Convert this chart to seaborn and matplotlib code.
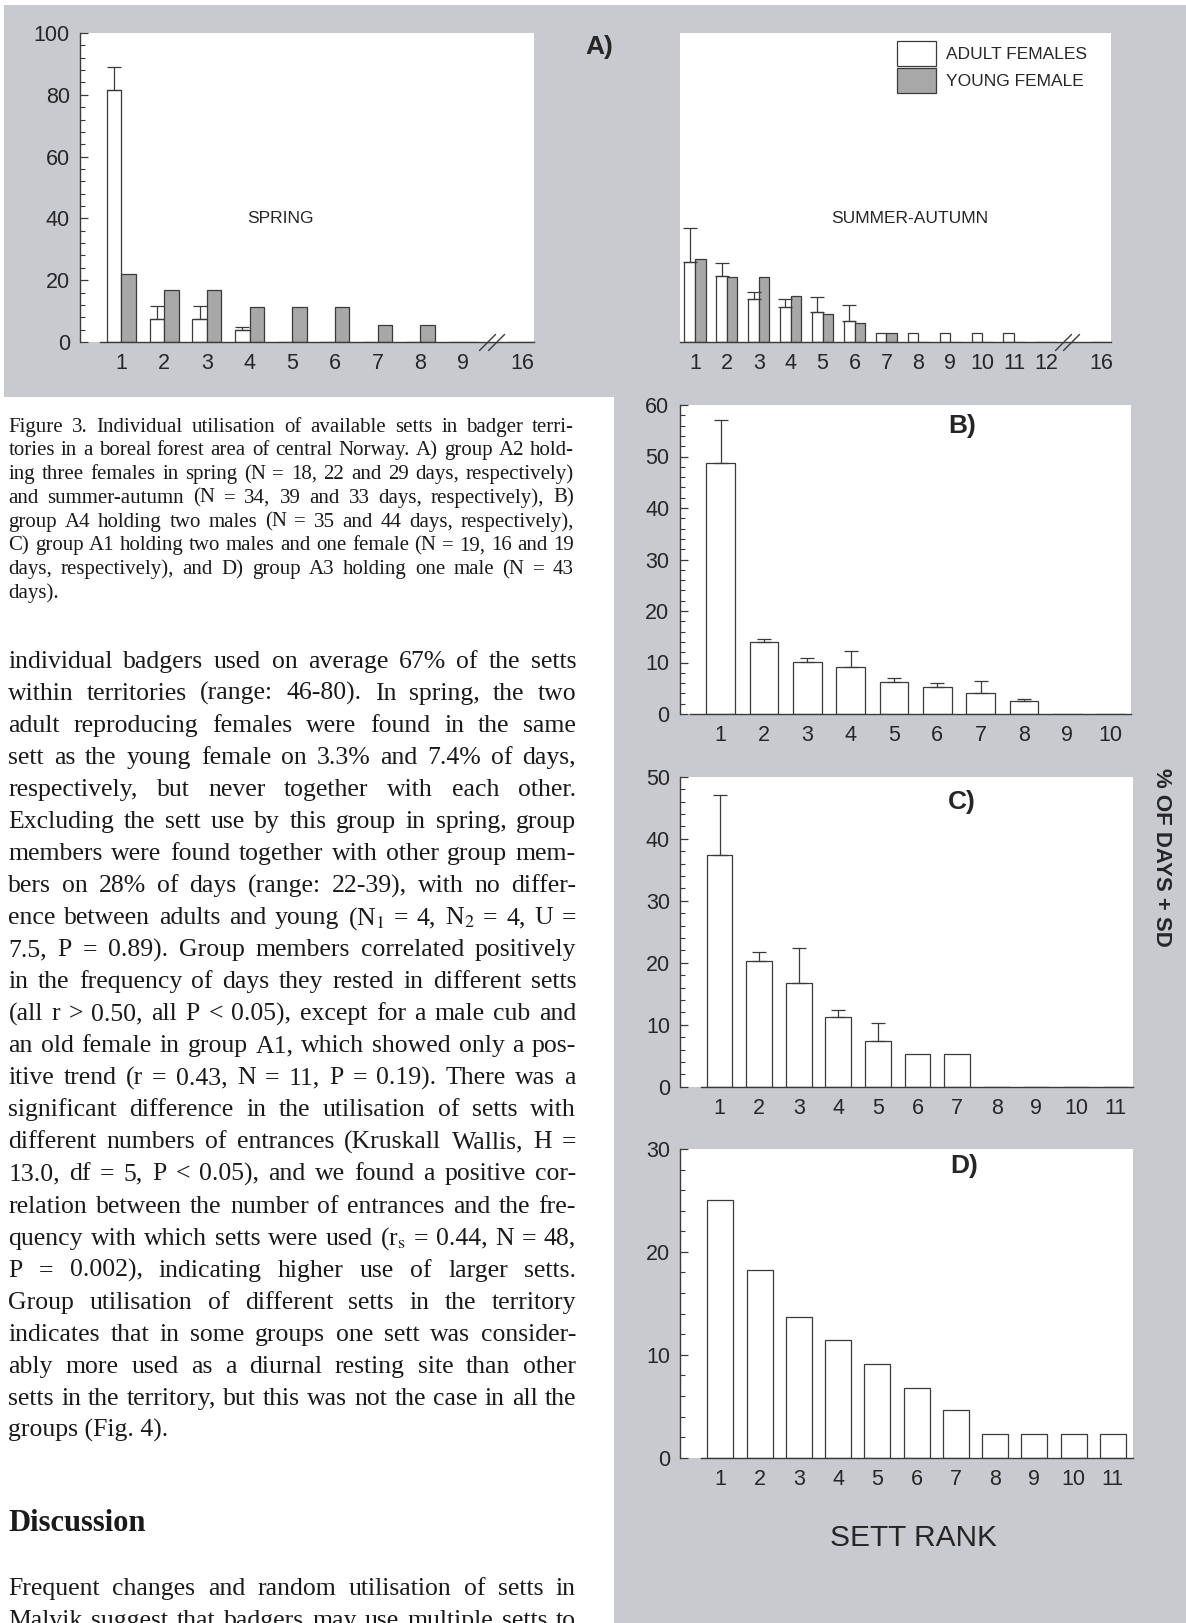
import numpy as np
import pandas as pd
import matplotlib
matplotlib.use('Agg')
import matplotlib.pyplot as plt
import seaborn as sns
from matplotlib.patches import Patch, Rectangle
from matplotlib.ticker import MultipleLocator

sns.set_theme(style='white')
plt.rcParams['font.family'] = ['Liberation Sans', 'DejaVu Sans']
plt.rcParams['mathtext.fontset'] = 'stix'

W, H = 1186, 1623

# ---- data ----
spring_rank = [1, 2, 3, 4, 5, 6, 7, 8, 9, 16]
spring_adult = [81.4, 7.5, 7.5, 4.0, 0, 0, 0, 0, 0, 0]
spring_adult_sd = [7.5, 4.2, 4.2, 0.9, 0, 0, 0, 0, 0, 0]
spring_young = [22.1, 16.8, 16.8, 11.2, 11.2, 11.2, 5.6, 5.6, 0, 0]

summer_rank = [1, 2, 3, 4, 5, 6, 7, 8, 9, 10, 11, 12, 16]
summer_adult = [25.8, 21.4, 14.0, 11.3, 9.7, 6.9, 2.9, 2.9, 2.9, 2.9, 2.8, 0, 0]
summer_adult_sd = [11.0, 4.3, 2.3, 2.5, 4.9, 5.2, 0, 0, 0, 0, 0, 0, 0]
summer_young = [26.8, 20.9, 20.9, 15.0, 9.1, 6.1, 2.9, 0, 0, 0, 0, 0, 0]

b_rank = [1, 2, 3, 4, 5, 6, 7, 8, 9, 10]
b_pct = [48.7, 13.9, 10.1, 9.1, 6.3, 5.2, 4.0, 2.6, 0, 0]
b_sd = [8.3, 0.6, 0.8, 3.2, 0.7, 0.8, 2.5, 0.4, 0, 0]

c_rank = [1, 2, 3, 4, 5, 6, 7, 8, 9, 10, 11]
c_pct = [37.4, 20.3, 16.8, 11.2, 7.4, 5.3, 5.3, 0, 0, 0, 0]
c_sd = [9.7, 1.4, 5.5, 1.2, 2.8, 0, 0, 0, 0, 0, 0]

d_rank = [1, 2, 3, 4, 5, 6, 7, 8, 9, 10, 11]
d_pct = [25.0, 18.2, 13.7, 11.4, 9.1, 6.8, 4.6, 2.3, 2.3, 2.3, 2.3]

groups = ['ADULT FEMALES', 'YOUNG FEMALE']

INK = '#262626'
EDGE = '#3a3a3a'
PAGE = '#c9cacf'
YOUNG = '#a8a8a8'
SERIF = ['Liberation Serif', 'DejaVu Serif']
TICK = 15.5


def fbox(x0, y0, x1, y1):
    return [x0 / W, 1 - y1 / H, (x1 - x0) / W, (y1 - y0) / H]


def broken(ranks, last, gap):
    # ranks past the axis break are pulled in next to the last regular rank
    return [r if r <= last else last + gap for r in ranks]


def style(ax, top, major, minor, xlim, xstart, show_y=True):
    ax.set_xlim(*xlim)
    ax.set_ylim(0, top)
    ax.set_facecolor('white')
    ax.set_xlabel('')
    ax.set_ylabel('')
    for s in ['top', 'right']:
        ax.spines[s].set_visible(False)
    ax.spines['bottom'].set_bounds(xstart, xlim[1])
    ax.spines['bottom'].set_color(EDGE)
    ax.spines['bottom'].set_linewidth(1.0)
    ax.tick_params(axis='x', length=0, pad=8, labelsize=TICK, labelcolor=INK)
    if show_y:
        ax.spines['left'].set_color(EDGE)
        ax.spines['left'].set_linewidth(1.0)
        ax.yaxis.set_major_locator(MultipleLocator(major))
        ax.yaxis.set_minor_locator(MultipleLocator(minor))
        ax.tick_params(axis='y', which='major', direction='in', length=6, width=0.9,
                       color=EDGE, pad=7.5, labelsize=TICK, labelcolor=INK, left=True)
        ax.tick_params(axis='y', which='minor', direction='in', length=3.5, width=0.8,
                       color=EDGE, left=True)
    else:
        ax.spines['left'].set_visible(False)
        ax.set_yticks([])


def add_sd(ax, sd):
    bars = ax.containers[0]
    xs = [p.get_x() + p.get_width() / 2 for p in bars]
    ys = [p.get_height() for p in bars]
    xs = [x for x, s in zip(xs, sd) if s > 0]
    lo = [0 for s in sd if s > 0]
    ys2 = [y for y, s in zip(ys, sd) if s > 0]
    hi = [s for s in sd if s > 0]
    ax.errorbar(xs, ys2, yerr=[lo, hi], fmt='none', ecolor=EDGE, elinewidth=0.9,
                capsize=5, capthick=0.9, zorder=1)


def breakmark(ax, xs):
    ax.plot(xs, [0, 0], marker=[(-1, -1), (1, 1)], ms=12, ls='none', color=EDGE,
            mew=1.0, clip_on=False, zorder=5)


def pair_bars(ax, pos, adult, young, width):
    df = pd.DataFrame({'pos': pos * 2, 'pct': adult + young,
                       'who': [groups[0]] * len(pos) + [groups[1]] * len(pos)})
    sns.barplot(df, x='pos', y='pct', hue='who', hue_order=groups,
                palette={groups[0]: 'white', groups[1]: YOUNG}, native_scale=True,
                width=width, dodge=True, errorbar=None, saturation=1, legend=False,
                edgecolor=EDGE, linewidth=0.9, orient='x', ax=ax)


def single_bars(ax, rank, pct, width):
    sns.barplot(x=rank, y=pct, native_scale=True, color='white', width=width,
                errorbar=None, saturation=1, edgecolor=EDGE, linewidth=0.9,
                orient='x', ax=ax)


fig = plt.figure(figsize=(W / 100, H / 100), dpi=100)
fig.patch.set_facecolor('white')
fig.add_artist(Rectangle((4 / W, 1 - 397 / H), 1 - 4 / W, (397 - 5) / H,
                         transform=fig.transFigure, facecolor=PAGE, edgecolor='none', zorder=-5))
fig.add_artist(Rectangle((614 / W, 0), 1 - 614 / W, 1 - 397 / H + 0.001,
                         transform=fig.transFigure, facecolor=PAGE, edgecolor='none', zorder=-5))

# ---- A) spring ----
axA1 = fig.add_axes(fbox(80.4, 33, 534, 342))
posA1 = broken(spring_rank, 9, 1.39)
pair_bars(axA1, posA1, spring_adult, spring_young, 0.68)
add_sd(axA1, spring_adult_sd)
style(axA1, 100, 20, 4, (0.04, 10.66), 0.5)
axA1.set_xticks(posA1, labels=[str(r) for r in spring_rank])
breakmark(axA1, [9.55, 9.76])
axA1.text(0.44, 0.40, 'SPRING', transform=axA1.transAxes, ha='center', va='center',
          fontsize=12.5, color=INK)

# ---- A) summer-autumn ----
axA2 = fig.add_axes(fbox(680, 33, 1111, 342))
posA2 = broken(summer_rank, 12, 1.75)
pair_bars(axA2, posA2, summer_adult, summer_young, 0.66)
add_sd(axA2, summer_adult_sd)
style(axA2, 100, 20, 4, (0.53, 14.04), 0.53, show_y=False)
axA2.set_xticks(posA2, labels=[str(r) for r in summer_rank])
breakmark(axA2, [12.52, 12.80])
axA2.text(0.533, 0.40, 'SUMMER-AUTUMN', transform=axA2.transAxes, ha='center',
          va='center', fontsize=12.5, color=INK)

handles = [Patch(facecolor='white', edgecolor=EDGE, linewidth=0.9, label=groups[0]),
           Patch(facecolor=YOUNG, edgecolor=EDGE, linewidth=0.9, label=groups[1])]
fig.legend(handles=handles, loc='upper left', bbox_to_anchor=(897 / W, 1 - 41 / H),
           frameon=False, fontsize=12.5, handlelength=2.25, handleheight=1.84,
           labelspacing=0.12, handletextpad=0.57, borderpad=0, borderaxespad=0,
           labelcolor=INK)
fig.text(599 / W, 1 - 47 / H, 'A)', ha='center', va='center', fontsize=19,
         fontweight='bold', color=INK)

# ---- B) ----
axB = fig.add_axes(fbox(679.6, 405, 1131, 714))
single_bars(axB, b_rank, b_pct, 0.66)
add_sd(axB, b_sd)
style(axB, 60, 10, 2, (0.05, 10.47), 0.29)
axB.set_xticks(b_rank, labels=[str(r) for r in b_rank])
fig.text(962 / W, 1 - 426 / H, 'B)', ha='center', va='center', fontsize=19,
         fontweight='bold', color=INK)

# ---- C) ----
axC = fig.add_axes(fbox(680.3, 776.7, 1132.5, 1086.7))
single_bars(axC, c_rank, c_pct, 0.65)
add_sd(axC, c_sd)
style(axC, 50, 10, 2, (0.01, 11.43), 0.53)
axC.set_xticks(c_rank, labels=[str(r) for r in c_rank])
fig.text(962 / W, 1 - 802 / H, 'C)', ha='center', va='center', fontsize=19,
         fontweight='bold', color=INK)
fig.text(1162 / W, 1 - 857 / H, '% OF DAYS + SD', rotation=270, ha='center', va='center',
         fontsize=16, fontweight='bold', color=INK)

# ---- D) ----
axD = fig.add_axes(fbox(680.3, 1149, 1132.5, 1457.7))
single_bars(axD, d_rank, d_pct, 0.66)
style(axD, 30, 10, 2, (-0.02, 11.5), 0.5)
axD.set_xticks(d_rank, labels=[str(r) for r in d_rank])
fig.text(964 / W, 1 - 1166 / H, 'D)', ha='center', va='center', fontsize=19,
         fontweight='bold', color=INK)
fig.text(914 / W, 1 - 1538 / H, 'SETT RANK', ha='center', va='center', fontsize=21.5,
         color=INK)

# ---- page text ----
caption = [
    'Figure 3. Individual utilisation of available setts in badger terri-',
    'tories in a boreal forest area of central Norway. A) group A2 hold-',
    'ing three females in spring (N = 18, 22 and 29 days, respectively)',
    'and summer-autumn (N = 34, 39 and 33 days, respectively), B)',
    'group A4 holding two males (N = 35 and 44 days, respectively),',
    'C) group A1 holding two males and one female (N = 19, 16 and 19',
    'days, respectively), and D) group A3 holding one male (N = 43',
    'days).',
]
body = [
    'individual badgers used on average 67% of the setts',
    'within territories (range: 46-80). In spring, the two',
    'adult reproducing females were found in the same',
    'sett as the young female on 3.3% and 7.4% of days,',
    'respectively, but never together with each other.',
    'Excluding the sett use by this group in spring, group',
    'members were found together with other group mem-',
    'bers on 28% of days (range: 22-39), with no differ-',
    r'ence between adults and young (N$_1$ = 4, N$_2$ = 4, U =',
    '7.5, P = 0.89). Group members correlated positively',
    'in the frequency of days they rested in different setts',
    '(all r > 0.50, all P < 0.05), except for a male cub and',
    'an old female in group A1, which showed only a pos-',
    'itive trend (r = 0.43, N = 11, P = 0.19). There was a',
    'significant difference in the utilisation of setts with',
    'different numbers of entrances (Kruskall Wallis, H =',
    '13.0, df = 5, P < 0.05), and we found a positive cor-',
    'relation between the number of entrances and the fre-',
    r'quency with which setts were used (r$_\mathrm{s}$ = 0.44, N = 48,',
    'P = 0.002), indicating higher use of larger setts.',
    'Group utilisation of different setts in the territory',
    'indicates that in some groups one sett was consider-',
    'ably more used as a diurnal resting site than other',
    'setts in the territory, but this was not the case in all the',
    'groups (Fig. 4).',
]
discussion = [
    'Frequent changes and random utilisation of setts in',
    'Malvik suggest that badgers may use multiple setts to',
]


def para(lines, x0, x1, y_first, dy, size, justify_last=False):
    r = fig.canvas.get_renderer()
    for i, line in enumerate(lines):
        yb = 1 - (y_first + i * dy) / H
        words = line.split(' ')
        if (i == len(lines) - 1 and not justify_last) or len(words) == 1:
            fig.text(x0 / W, yb, line, fontsize=size, family=SERIF, color='#1a1a1a',
                     va='baseline')
            continue
        ts = [fig.text(0, yb, w, fontsize=size, family=SERIF, color='#1a1a1a',
                       va='baseline') for w in words]
        ws = [t.get_window_extent(r).width for t in ts]
        gap = (x1 - x0 - sum(ws)) / (len(words) - 1)
        x = x0
        for t, w in zip(ts, ws):
            t.set_x(x / W)
            x += w + gap


para(caption, 8.4, 574, 431.5, 23.76, 15)
para(body, 8.4, 576, 668, 32.03, 18.5)
fig.text(8.4 / W, 1 - 1530.7 / H, 'Discussion', fontsize=22, fontweight='bold',
         family=SERIF, color='#1a1a1a', va='baseline')
# last paragraph runs off the bottom of the page, as in the scan
para(discussion, 8.4, 576, 1595, 32.03, 18.5, justify_last=True)

fig.savefig('out.png', dpi=100)
